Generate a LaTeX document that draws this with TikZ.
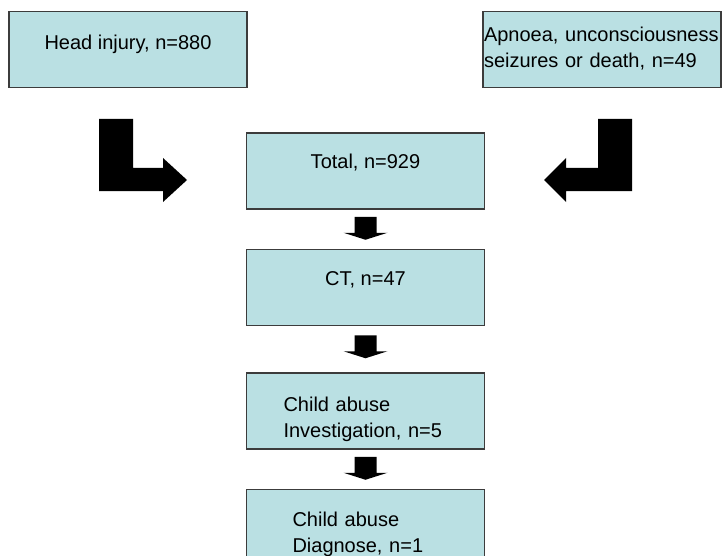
\documentclass[tikz,border=0pt]{standalone}
\usepackage{fontspec}
\setmainfont{Liberation Sans}
\usetikzlibrary{positioning,calc}

\definecolor{boxfill}{RGB}{186,224,227}
\definecolor{boxline}{RGB}{60,60,60}

\begin{document}
\begin{tikzpicture}[x=0.5pt,y=-0.5pt,
  flowbox/.style={draw=boxline,line width=0.75pt,fill=boxfill,minimum width=119pt,minimum height=38pt,
    inner ysep=0pt,align=left,text height=18.5pt,text depth=19.5pt,font=\fontsize{10}{13}\selectfont},
  downarrow/.pic={\fill (-11,0) -- (11,0) -- (11,16) -- (22,16) -- (0,23) -- (-22,16) -- (-11,16) -- cycle;}]
\useasboundingbox (0,0) rectangle (723,556);
\clip (0,0) rectangle (723,556);

\node[flowbox,text height=19pt,text depth=19pt] (head) at (128,49.5) {Head injury, n=880};
\node[flowbox,text width=118pt,inner xsep=0.5pt,text height=15pt,text depth=23pt] (apnoea) at (602,49.5)
  {Apnoea, unconsciousness\\seizures or death, n=49};
\node[flowbox,text height=18pt,text depth=20pt] (total) at (365.5,171) {Total, n=929};
\node[flowbox,text height=18pt,text depth=20pt,below=19.5pt of total] (ct) {CT, n=47};
\node[flowbox,text width=82pt,inner xsep=18.5pt,text height=19pt,text depth=19pt,below=23pt of ct] (inv)
  {Child abuse\\Investigation, n=5};
\node[flowbox,text width=73pt,inner xsep=23pt,below=19.5pt of inv] (diag) {Child abuse\\Diagnose, n=1};

% bent block arrows
\fill (99,119) -- (133,119) -- (133,168) -- (163,168) -- (163,158) -- (187,180) -- (163,202) -- (163,191) -- (99,191) -- cycle;
\fill (632,119) -- (598,119) -- (598,168) -- (566,168) -- (566,158) -- (544,180) -- (566,202) -- (566,191) -- (632,191) -- cycle;

\pic at ($(total.south)+(0,7)$) {downarrow};
\pic at ($(ct.south)+(0,9)$) {downarrow};
\pic at ($(inv.south)+(0,7)$) {downarrow};
\end{tikzpicture}
\end{document}
